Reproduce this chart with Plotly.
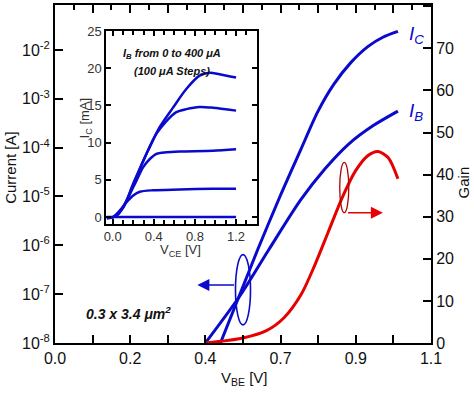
import plotly.graph_objects as go

# ---------------- data ----------------
# main plot: V_BE (axis units) vs current / gain
vbe_ic = [0.484, 0.5925, 0.66, 0.7187, 0.7685, 0.8155, 0.8653, 0.9152, 0.9592, 1.0032]
ic_a = [1.0e-8, 8.0e-7, 1.07e-5, 9.0e-5, 5.4e-4, 1.97e-3, 5.5e-3, 1.17e-2, 1.82e-2, 2.4e-2]

vbe_ib = [0.44, 0.5427, 0.6248, 0.7187, 0.79, 0.86, 0.93, 1.0032]
ib_a = [1.0e-8, 9.6e-8, 8.0e-7, 8.5e-6, 3.7e-5, 1.2e-4, 2.8e-4, 5.6e-4]

vbe_gain = [0.44, 0.55, 0.62, 0.67, 0.72, 0.76, 0.80, 0.84, 0.88, 0.915, 0.945, 0.975, 1.0032]
gain = [0, 1.2, 3.0, 6.0, 11.5, 18.5, 26.5, 34.5, 41.0, 44.5, 45.5, 44.0, 39.0]

x_ticks = [0, 0.11, 0.22, 0.33, 0.44, 0.55, 0.66, 0.77, 0.88, 0.99, 1.1]
current_ticks = [1e-8, 1e-7, 1e-6, 1e-5, 1e-4, 1e-3, 1e-2]
current_labels = ["10<sup>-8</sup>", "10<sup>-7</sup>", "10<sup>-6</sup>", "10<sup>-5</sup>",
                  "10<sup>-4</sup>", "10<sup>-3</sup>", "10<sup>-2</sup>"]
gain_ticks = [0, 10, 20, 30, 40, 50, 60, 70, 80]

# inset: Ic vs Vce for IB = 0..400 uA
vce_0 = [-0.058, 1.2]
ic_0 = [0.0, 0.0]
vce_100 = [-0.058, 0.0065, 0.071, 0.135, 0.2, 0.265, 0.394, 0.652, 0.974, 1.2]
ic_100 = [-0.2, 0.0, 0.9, 2.0, 2.9, 3.4, 3.6, 3.7, 3.8, 3.8]
vce_200 = [-0.026, 0.039, 0.103, 0.168, 0.232, 0.297, 0.361, 0.426, 0.523, 0.652, 0.974, 1.2]
ic_200 = [-0.1, 0.2, 1.3, 3.1, 4.9, 6.7, 7.8, 8.5, 8.7, 8.8, 8.9, 9.1]
vce_300 = [-0.0097, 0.055, 0.135, 0.232, 0.329, 0.426, 0.523, 0.619, 0.716, 0.845, 0.974, 1.2]
ic_300 = [-0.1, 0.4, 2.2, 5.4, 8.5, 11.2, 12.9, 14.1, 14.5, 14.8, 14.7, 14.3]
vce_400 = [0.0065, 0.103, 0.2, 0.329, 0.458, 0.587, 0.716, 0.845, 0.942, 1.039, 1.2]
ic_400 = [0.0, 1.3, 4.5, 8.5, 12.1, 14.7, 17.2, 19.0, 19.4, 19.2, 18.75]

BLUE = "#0a0acc"
RED = "#e60000"
FONT = "Liberation Sans, Arial, sans-serif"

fig = go.Figure()

# main curves
fig.add_trace(go.Scatter(x=vbe_ic, y=ic_a, mode="lines",
                         line=dict(color=BLUE, width=3, shape="spline", smoothing=0.8),
                         xaxis="x", yaxis="y", showlegend=False))
fig.add_trace(go.Scatter(x=vbe_ib, y=ib_a, mode="lines",
                         line=dict(color=BLUE, width=3, shape="spline", smoothing=0.8),
                         xaxis="x", yaxis="y", showlegend=False))
fig.add_trace(go.Scatter(x=vbe_gain, y=gain, mode="lines",
                         line=dict(color=RED, width=3, shape="spline", smoothing=0.8),
                         xaxis="x", yaxis="y4", showlegend=False))
# invisible trace for the top axis
fig.add_trace(go.Scatter(x=[0.5], y=[1e-5], mode="markers", marker=dict(opacity=0),
                         xaxis="x3", yaxis="y", showlegend=False, hoverinfo="skip"))

# inset curves
for vx, iy in [(vce_0, ic_0), (vce_100, ic_100), (vce_200, ic_200), (vce_300, ic_300), (vce_400, ic_400)]:
    fig.add_trace(go.Scatter(x=vx, y=iy, mode="lines",
                             line=dict(color=BLUE, width=2.5, shape="spline", smoothing=0.8),
                             xaxis="x2", yaxis="y2", showlegend=False))

tick_font = dict(family=FONT, size=16, color="#111")
x_text = [f"{v:.1f}" if i % 2 == 0 else "" for i, v in enumerate(x_ticks)]
top_major = x_ticks
top_minor = [round(v + 0.055, 4) for v in x_ticks[:-1]]

fig.update_layout(
    width=474, height=413,
    margin=dict(l=55, r=43, t=5, b=70),
    paper_bgcolor="white", plot_bgcolor="white",
    font=dict(family=FONT, color="#111"),
    xaxis=dict(domain=[0, 1], range=[0, 1.1], tickmode="array", tickvals=x_ticks, ticktext=x_text,
               ticks="inside", ticklen=8, tickwidth=2, tickcolor="black", showline=True, linewidth=2,
               linecolor="black", showgrid=False, zeroline=False, tickfont=tick_font, anchor="y",
               automargin=False),
    xaxis3=dict(overlaying="x", side="top", range=[0, 1.1], tickmode="array", tickvals=top_major,
                showticklabels=False, ticks="inside", ticklen=8, tickwidth=2, tickcolor="black",
                minor=dict(tickmode="array", tickvals=top_minor, ticks="inside", ticklen=5, tickwidth=2, tickcolor="black"),
                showline=True, linewidth=2, linecolor="black", showgrid=False, zeroline=False, anchor="y",
                automargin=False),
    yaxis=dict(type="log", range=[-8, -1.08], tickmode="array", tickvals=current_ticks,
               ticktext=current_labels, ticks="inside", ticklen=8, tickwidth=2, tickcolor="black",
               showline=True, linewidth=2, linecolor="black", showgrid=False, zeroline=False,
               tickfont=tick_font, anchor="x", automargin=False),
    yaxis4=dict(overlaying="y", side="right", range=[0, 80.3], tickmode="array", tickvals=gain_ticks,
                ticks="inside", ticklen=8, tickwidth=2, tickcolor="black", showline=True, linewidth=2,
                linecolor="black", showgrid=False, zeroline=False, tickfont=tick_font, anchor="x",
                automargin=False),
    xaxis2=dict(domain=[0.1356, 0.537], range=[-0.065, 1.403], tickmode="array", tickvals=[0, 0.4, 0.8, 1.2],
                ticktext=["0.0", "0.4", "0.8", "1.2"],
                minor=dict(tickmode="array", tickvals=[0.1, 0.2, 0.3, 0.5, 0.6, 0.7, 0.9, 1.0, 1.1, 1.3],
                           ticks="inside", ticklen=4, tickwidth=1.5, tickcolor="black"),
                ticks="inside", ticklen=5, tickwidth=1.5, tickcolor="black", mirror="allticks",
                showline=True, linewidth=1.5, linecolor="black", showgrid=False, zeroline=False,
                tickfont=dict(family=FONT, size=13, color="#333"), anchor="y2", automargin=False),
    yaxis2=dict(domain=[0.352, 0.923], range=[-0.94, 25], tickmode="array", tickvals=[0, 5, 10, 15, 20, 25],
                ticks="inside", ticklen=5, tickwidth=1.5, tickcolor="black", mirror="allticks",
                showline=True, linewidth=1.5, linecolor="black", showgrid=False, zeroline=False,
                tickfont=dict(family=FONT, size=13, color="#333"), anchor="x2", automargin=False),
)

# ellipses and arrows
fig.add_shape(type="circle", xref="x", yref="y4", x0=0.528, x1=0.572, y0=4.3, y1=21.0,
              line=dict(color=BLUE, width=1.6))
fig.add_shape(type="circle", xref="x", yref="y4", x0=0.833, x1=0.8595, y0=30.95, y1=42.9,
              line=dict(color="#b00000", width=1.3))

fig.add_annotation(x=0.4165, y=13.8, xref="x", yref="y4", ax=0.528, ay=13.8, axref="x", ayref="y4",
                   showarrow=True, arrowhead=2, arrowsize=1.6, arrowwidth=1.5, arrowcolor=BLUE, text="")
fig.add_annotation(x=0.9592, y=30.95, xref="x", yref="y4", ax=0.853, ay=30.95, axref="x", ayref="y4",
                   showarrow=True, arrowhead=2, arrowsize=1.6, arrowwidth=1.5, arrowcolor=RED, text="")

# labels
fig.add_annotation(x=1.029, y=73.1, xref="x", yref="y4", text="<i>I<sub>C</sub></i>", showarrow=False,
                   xanchor="left", font=dict(family=FONT, size=19, color=BLUE))
fig.add_annotation(x=1.029, y=54.8, xref="x", yref="y4", text="<i>I<sub>B</sub></i>", showarrow=False,
                   xanchor="left", font=dict(family=FONT, size=19, color=BLUE))
fig.add_annotation(x=0.086, y=7.2, xref="x", yref="y4", text="<b><i>0.3 x 3.4 μm<sup>2</sup></i></b>",
                   showarrow=False, xanchor="left", font=dict(family=FONT, size=14, color="#111"))

fig.add_annotation(x=0.311, y=0.882, xref="paper", yref="paper", xanchor="center",
                   text="<b><i>I<sub>B</sub> from 0 to 400 μA</i></b>", showarrow=False,
                   font=dict(family=FONT, size=11, color="#111"))
fig.add_annotation(x=0.311, y=0.828, xref="paper", yref="paper", xanchor="center",
                   text="<b><i>(100 μA Steps)</i></b>", showarrow=False,
                   font=dict(family=FONT, size=11, color="#111"))

# axis titles
fig.add_annotation(x=-0.118, y=0.52, xref="paper", yref="paper", text="Current [A]", textangle=-90,
                   xanchor="center", yanchor="middle",
                   showarrow=False, font=dict(family=FONT, size=15, color="#111"))
fig.add_annotation(x=1.085, y=0.475, xref="paper", yref="paper", text="Gain", textangle=-90,
                   xanchor="center", yanchor="middle",
                   showarrow=False, font=dict(family=FONT, size=15, color="#111"))
fig.add_annotation(x=0.503, y=-0.105, xref="paper", yref="paper", text="V<sub>BE</sub> [V]",
                   xanchor="center", yanchor="middle",
                   showarrow=False, font=dict(family=FONT, size=15, color="#111"))
fig.add_annotation(x=0.082, y=0.667, xref="paper", yref="paper", text="I<sub>C</sub> [mA]", textangle=-90,
                   xanchor="center", yanchor="middle",
                   showarrow=False, font=dict(family=FONT, size=13, color="#333"))
fig.add_annotation(x=0.335, y=0.274, xref="paper", yref="paper", text="V<sub>CE</sub> [V]",
                   xanchor="center", yanchor="middle",
                   showarrow=False, font=dict(family=FONT, size=13, color="#333"))

fig.write_html("out.html", config={"displayModeBar": False},
               post_script="document.body.style.margin='0px';document.body.style.padding='0px';")
